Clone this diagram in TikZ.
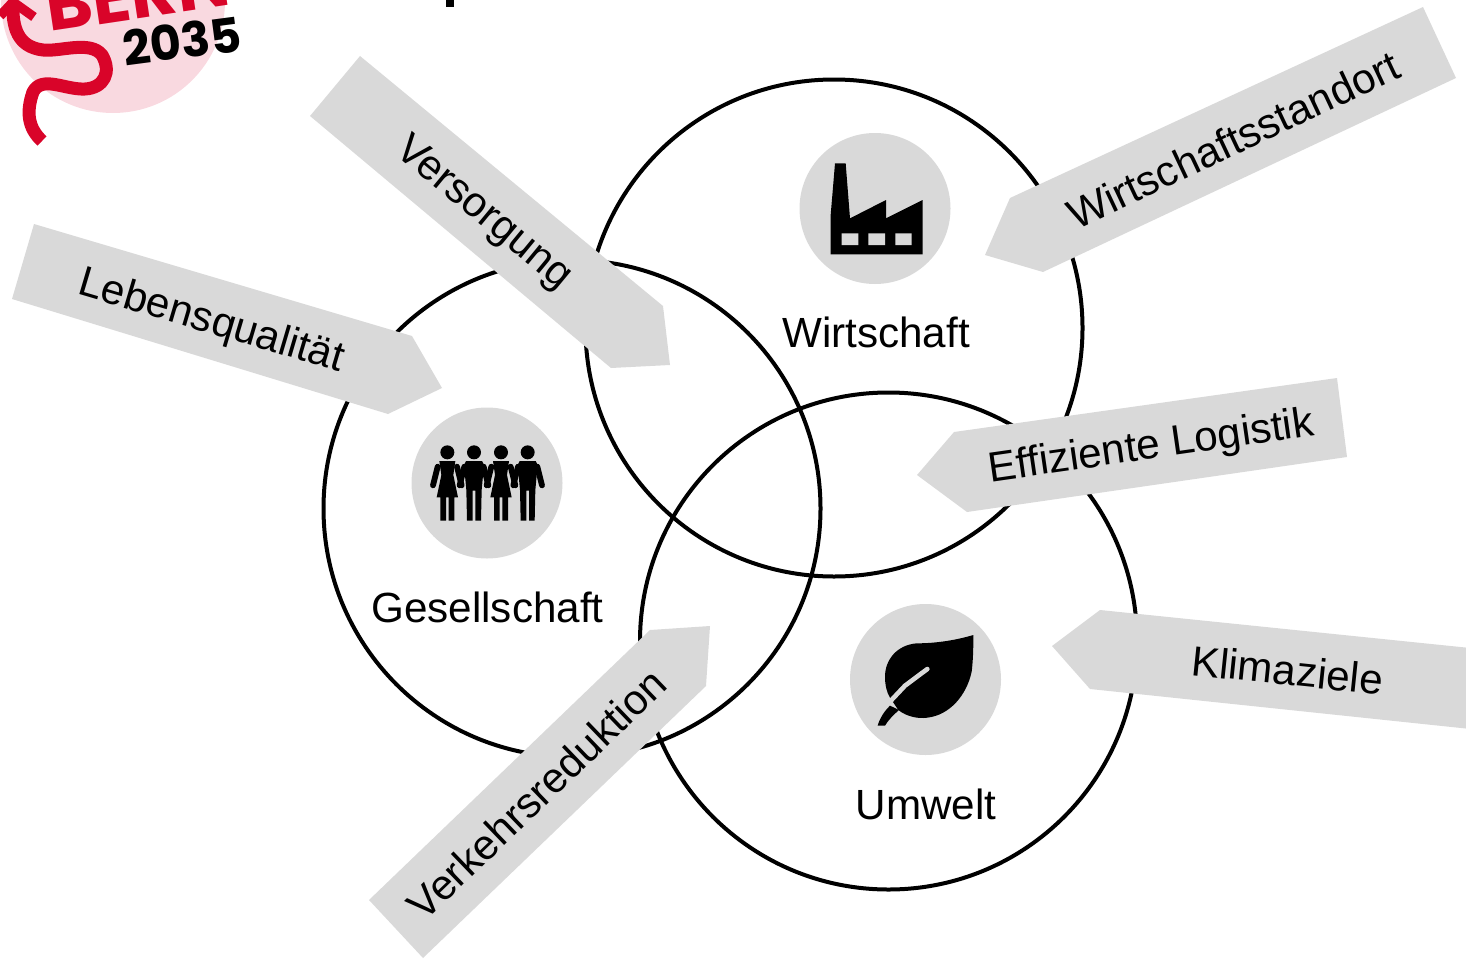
\documentclass[tikz,border=0pt]{standalone}
\usepackage{fontspec}
\setmainfont{Liberation Sans}
\newfontfamily\logofont{Poppins}
\definecolor{tagGrey}{HTML}{D9D9D9}
\definecolor{logoPink}{HTML}{F9D9E0}
\definecolor{logoRed}{HTML}{D90429}
\tikzset{
 ring/.style={circle,draw=black,line width=4pt,minimum size=497pt,inner sep=0pt,outer sep=0pt},
 tag/.style={fill=tagGrey,draw=none},
 disc/.style={circle,fill=tagGrey,draw=none,minimum size=151pt,inner sep=0pt,outer sep=0pt},
 lab/.style={font=\fontsize{42.2}{42.2}\selectfont,inner sep=0pt,text=black},
 icon/.style={x=0.33333pt,y=-0.33333pt},
}
\newcommand{\manFig}[1]{%
 \begin{scope}[shift={(#1,0)}]
 \fill (0,157) circle[radius=21];
 \fill (-24,183) -- (24,183) -- (30,195) -- (23,270) -- (21,362) -- (4,362) -- (4,272) -- (-4,272) -- (-4,362) -- (-21,362) -- (-23,270) -- (-30,195) -- cycle;
 \draw[line width=5.8pt,line cap=round] (-29,200) -- (-43,256);
 \draw[line width=5.8pt,line cap=round] (29,200) -- (43,256);
 \end{scope}}
\newcommand{\womanFig}[1]{%
 \begin{scope}[shift={(#1,0)}]
 \fill (0,157) circle[radius=21];
 \fill (-24,183) -- (24,183) -- (18,225) -- (32,292) -- (21,292) -- (21,362) -- (4,362) -- (4,292) -- (-4,292) -- (-4,362) -- (-21,362) -- (-21,292) -- (-32,292) -- (-18,225) -- cycle;
 \draw[line width=5.8pt,line cap=round] (-29,200) -- (-43,256);
 \draw[line width=5.8pt,line cap=round] (29,200) -- (43,256);
 \end{scope}}
\begin{document}
\begin{tikzpicture}[x=1pt,y=-1pt]
\useasboundingbox (0,0) rectangle (1466,958);
\clip (0,0) rectangle (1466,958);
% logo
\fill[logoPink] (113,1) circle[radius=112];
\node[anchor=base west,rotate=8.5,inner sep=0pt,font=\logofont\bfseries\fontsize{71}{71}\selectfont,text=logoRed] (bern) at (49,32) {BERN};
\node[anchor=base west,rotate=7.5,inner sep=0pt,font=\logofont\bfseries\fontsize{48}{48}\selectfont,text=black] (year) at (125,66.5) {2035};
\draw[logoRed,line width=13pt,line join=round] (13,3) .. controls (12,28) and (18,47) .. (43,50)
 .. controls (60,52) and (90,40) .. (102,55) .. controls (112,72) and (104,88) .. (85,89)
 .. controls (65,90) and (42,75) .. (33,92) .. controls (26,112) and (28,128) .. (42,141);
\draw[logoRed,line width=9.5pt] (0,16) -- (13,2) -- (34,17);
% top fragment
\fill[black] (446,0) rectangle (454,7);
% rings
\node[ring] (wirtschaftRing) at (834,328) {};
\node[ring] (gesellschaftRing) at (572,508.5) {};
\node[ring] (umweltRing) at (888.5,641) {};
% discs
\node[disc] (wirtschaftDisc) at (875,208.5) {};
\node[disc] (gesellschaftDisc) at (487,483) {};
\node[disc] (umweltDisc) at (925.5,679.5) {};
% factory
\begin{scope}[shift={(790,125)},icon]
\fill[black] (135,115) -- (167,115) -- (180,280) -- (288,225) -- (288,280) -- (398,225) -- (398,388) -- (122,388) -- (122,270) -- cycle;
\fill[tagGrey] (155,325) rectangle (205,360) (235,325) rectangle (285,360) (316,325) rectangle (365,360);
\end{scope}
% people
\begin{scope}[shift={(400,400)},icon]
\womanFig{142}
\manFig{222}
\womanFig{303}
\manFig{383}
\end{scope}
% leaf
\begin{scope}[shift={(840,595)},icon]
\fill[black] (400,120) .. controls (350,135) and (290,145) .. (230,145)
 .. controls (170,150) and (135,195) .. (135,245) .. controls (135,270) and (140,292) .. (150,308)
 -- (175,345)
 .. controls (200,365) and (235,372) .. (262,368)
 .. controls (330,360) and (380,300) .. (395,230) .. controls (400,190) and (400,150) .. (400,120) -- cycle;
\draw[tagGrey,line width=4.6pt,line cap=round] (262,222) -- (195,272) -- (148,322);
\fill[black] (113,392) .. controls (120,368) and (132,350) .. (150,332) -- (177,345) .. controls (160,360) and (145,375) .. (135,392) -- cycle;
\end{scope}
% tags
\fill[tag] (360,56) -- (663,306) -- (670,365) -- (611,368) -- (310,116) -- cycle;
\fill[tag] (34,224) -- (412,336) -- (442,388) -- (388,414) -- (12,299) -- cycle;
\fill[tag] (1423,7) -- (1456,78) -- (1043,272) -- (985,255) -- (1010,198) -- cycle;
\fill[tag] (1337,378) -- (1347,457) -- (967,512) -- (917,475) -- (954,432) -- cycle;
\fill[tag] (1480,649) -- (1480,730) -- (1090,689) -- (1052,646) -- (1100,610) -- cycle;
\fill[tag] (369,900) -- (650,630) -- (710,626) -- (706,686) -- (423,958) -- cycle;
% labels
\node[lab] (wirtschaftLab) at (876,332.5) {Wirtschaft};
\node[lab] (gesellschaftLab) at (487.5,607.5) {Gesellschaft};
\node[lab] (umweltLab) at (926,804.5) {Umwelt};
\node[lab,rotate=-39.5] (versorgung) at (483,214) {Versorgung};
\node[lab,rotate=-16.5] (lebensq) at (211,322.5) {Lebensqualität};
\node[lab,rotate=25.2] (wstandort) at (1233,139.5) {Wirtschaftsstandort};
\node[lab,rotate=8.2] (logistik) at (1151.5,448) {Effiziente Logistik};
\node[lab,rotate=-5.9] (klima) at (1287.5,670) {Klimaziele};
\node[lab,rotate=43.9] (verkehr) at (536.5,794) {Verkehrsreduktion};
\end{tikzpicture}
\end{document}
